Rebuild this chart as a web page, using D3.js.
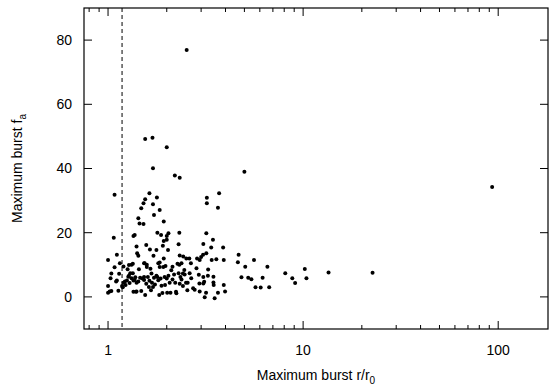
<!DOCTYPE html>
<html lang="en">
<head>
  <meta charset="UTF-8">
  <title>Maximum burst</title>
  <style>
    body { margin: 0; padding: 0; background: #fff; }
    svg { display: block; font-family: "Liberation Sans", Arial, sans-serif; }
  </style>
  <script src="https://d3js.org/d3.v7.min.js"></script>
</head>
<body>
  <div id="chart"></div>
  <script>
    // burst points: r/r0 and f_a
    const rRatio = [
      1.08, 1.70, 2.2, 2.33, 1.07, 1.0, 1.11, 1.15, 1.32, 1.35, 1.37, 1.40, 1.41, 1.43, 1.43, 1.45, 1.52, 1.48, 1.52, 1.55,
      1.63, 1.70, 1.72, 1.78, 1.84, 1.93, 1.79, 1.87, 2.0, 2.0, 2.04, 1.91, 2.03, 1.77, 1.57, 1.64, 1.71, 1.93, 1.84, 1.54,
      1.58, 1.81, 2.32, 2.30, 2.33, 2.43, 2.52, 2.38, 2.32, 2.95, 2.86, 3.0, 3.07, 3.19, 3.08, 3.19, 3.21, 3.21, 3.71, 3.66,
      3.45, 3.59, 3.89, 3.92, 4.67, 4.63, 5.6, 1.55, 1.69, 2.0, 2.53, 5.0,
      3.47, 3.47, 3.48, 3.66, 3.52, 3.92, 3.98, 5.05, 4.83, 5.23, 5.43, 5.7, 6.06, 6.2, 6.56, 6.7, 8.1, 8.8, 9.1, 10.2,
      10.4, 13.5, 22.7, 93.1,
      1.08, 1.04, 1.03, 1.11, 1.0, 1.0, 1.04, 1.13, 1.18, 1.2, 1.23, 1.25, 1.28, 1.3, 1.26, 1.2, 1.28, 1.32, 1.35, 1.38,
      1.4, 1.35, 1.39, 1.43, 1.44, 1.48, 1.46, 1.5, 1.53, 1.55, 1.53, 1.57, 1.58, 1.6, 1.62, 1.63, 1.65, 1.66, 1.67, 1.68,
      1.7, 1.72, 1.74, 1.77, 1.79, 1.81, 1.83, 1.84, 1.86, 1.88, 1.9, 1.92, 1.95, 1.96, 1.97, 2.0, 2.01, 2.04, 2.07, 2.09,
      2.11, 2.14, 2.18, 2.21, 2.23, 2.3, 2.33, 2.35, 2.38, 2.42, 2.47, 2.51, 2.56, 2.55, 2.92, 2.94, 3.08, 3.08, 3.11, 3.18,
      3.26, 3.13,
      2.73, 2.78, 2.95, 2.84, 2.62, 2.67, 2.42, 2.24, 2.46, 2.14, 1.02, 1.1, 1.14, 1.19, 1.22, 1.27, 1.29, 1.34, 1.37, 1.40,
      1.34, 1.53, 2.27, 2.61, 2.66, 3.38, 3.4, 1.93, 3.25
    ];
    const fa = [
      31.8, 40.1, 37.8, 37.1, 18.4, 11.5, 13.1, 10.5, 10.0, 19.0, 19.3, 15.7, 13.6, 12.8, 24.5, 22.9, 22.7, 27.6, 29.2, 30.4,
      32.3, 28.9, 25.5, 31.0, 27.1, 23.5, 20.0, 19.3, 17.8, 19.0, 19.8, 15.9, 14.6, 14.6, 16.2, 14.8, 12.8, 12.0, 10.7, 10.5,
      10.0, 10.5, 20.0, 16.4, 12.9, 12.6, 12.0, 10.5, 10.0, 11.5, 12.0, 12.4, 13.1, 13.6, 16.5, 19.8, 29.2, 30.9, 32.3, 27.8,
      17.8, 11.7, 15.4, 11.5, 13.1, 10.8, 11.5, 49.2, 49.6, 46.6, 76.9, 39.0,
      6.3, 4.5, 3.7, 1.3, -0.4, 3.7, 1.7, 9.4, 6.1, 6.0, 5.5, 3.0, 2.9, 6.0, 9.4, 3.0, 7.4, 5.8, 4.3, 8.7,
      5.8, 7.6, 7.5, 34.2,
      9.2, 7.3, 5.8, 5.1, 3.4, 1.3, 1.8, 1.9, 3.4, 4.4, 3.7, 5.1, 6.6, 7.4, 8.6, 9.5, 9.9, 5.8, 5.1, 6.1,
      4.4, 1.6, 1.6, 4.8, 8.6, 1.8, 6.0, 5.7, 5.3, 0.6, 6.2, 4.1, 9.3, 6.2, 3.1, 5.0, 8.8, 2.1, 7.3, 4.4,
      3.1, 6.0, 3.9, 6.6, 6.2, 5.2, 0.6, 9.3, 5.7, 3.5, 1.2, 9.3, 6.2, 3.7, 9.6, 5.7, 1.3, 6.6, 4.4, 1.3,
      8.3, 5.4, 7.0, 4.4, 1.6, 7.4, 4.1, 6.2, 5.4, 7.3, 7.0, 4.4, 4.4, 2.1, 6.9, 4.2, 6.2, 4.2, 4.7, 1.3,
      8.5, -0.1,
      2.7, 2.2, 1.7, 8.9, 7.4, 5.8, 3.4, 1.1, 8.4, 9.4, 1.7, 4.8, 7.2, 3.0, 4.8, 6.3, 4.3, 7.4, 5.3, 1.7,
      10.3, 10.5, 10.3, 12.0, 10.5, 15.4, 11.5, 17.4, 6.6
    ];

    const xMajor = [1, 10, 100];
    const xMinor = [0.8, 0.9, 2, 3, 4, 5, 6, 7, 8, 9, 20, 30, 40, 50, 60, 70, 80, 90];
    const yTicks = [0, 20, 40, 60, 80];
    const cutoff = 1.18;

    const width = 554, height = 385;
    const margin = {top: 8, right: 6, bottom: 56, left: 84};
    const plotW = width - margin.left - margin.right;
    const plotH = height - margin.top - margin.bottom;

    const svg = d3.select("#chart").append("svg")
      .attr("width", width)
      .attr("height", height);

    const g = svg.append("g")
      .attr("transform", `translate(${margin.left},${margin.top})`);

    const x = d3.scaleLog().domain([0.753, 180]).range([0, plotW]);
    const y = d3.scaleLinear().domain([-10, 90]).range([plotH, 0]);

    // ticks pointing inward on all four sides
    function tickLines(vals, len, cls) {
      vals.forEach(v => {
        const px = x(v);
        g.append("line").attr("x1", px).attr("x2", px).attr("y1", plotH).attr("y2", plotH - len)
          .attr("stroke", "#000").attr("stroke-width", 1);
        g.append("line").attr("x1", px).attr("x2", px).attr("y1", 0).attr("y2", len)
          .attr("stroke", "#000").attr("stroke-width", 1);
      });
    }
    tickLines(xMajor, 8);
    tickLines(xMinor, 4);

    yTicks.forEach(v => {
      const py = y(v);
      g.append("line").attr("x1", 0).attr("x2", 8).attr("y1", py).attr("y2", py)
        .attr("stroke", "#000");
      g.append("line").attr("x1", plotW).attr("x2", plotW - 8).attr("y1", py).attr("y2", py)
        .attr("stroke", "#000");
      g.append("text")
        .attr("x", -12)
        .attr("y", py)
        .attr("dy", "0.35em")
        .attr("text-anchor", "end")
        .attr("font-size", 14)
        .text(v);
    });

    xMajor.forEach(v => {
      g.append("text")
        .attr("x", x(v))
        .attr("y", plotH + 26)
        .attr("text-anchor", "middle")
        .attr("font-size", 14)
        .text(v);
    });

    // dashed cutoff line
    g.append("line")
      .attr("x1", x(cutoff)).attr("x2", x(cutoff))
      .attr("y1", 0).attr("y2", plotH)
      .attr("stroke", "#000")
      .attr("stroke-width", 1)
      .attr("stroke-dasharray", "4,3");

    // points
    g.selectAll("circle.pt")
      .data(d3.range(rRatio.length))
      .enter().append("circle")
      .attr("class", "pt")
      .attr("cx", i => x(rRatio[i]))
      .attr("cy", i => y(fa[i]))
      .attr("r", 2)
      .attr("fill", "#000");

    // frame
    g.append("rect")
      .attr("width", plotW)
      .attr("height", plotH)
      .attr("fill", "none")
      .attr("stroke", "#000")
      .attr("stroke-width", 1.2);

    // axis labels
    const xl = svg.append("text")
      .attr("x", margin.left + plotW / 2)
      .attr("y", height - 5)
      .attr("text-anchor", "middle")
      .attr("font-size", 14);
    xl.append("tspan").text("Maximum burst r/r");
    xl.append("tspan").attr("font-size", 10).attr("dy", 4).text("0");

    const yl = svg.append("text")
      .attr("transform", `translate(22,${margin.top + plotH / 2}) rotate(-90)`)
      .attr("text-anchor", "middle")
      .attr("font-size", 14);
    yl.append("tspan").text("Maximum burst f");
    yl.append("tspan").attr("font-size", 10).attr("dy", 4).text("a");
  </script>
</body>
</html>
